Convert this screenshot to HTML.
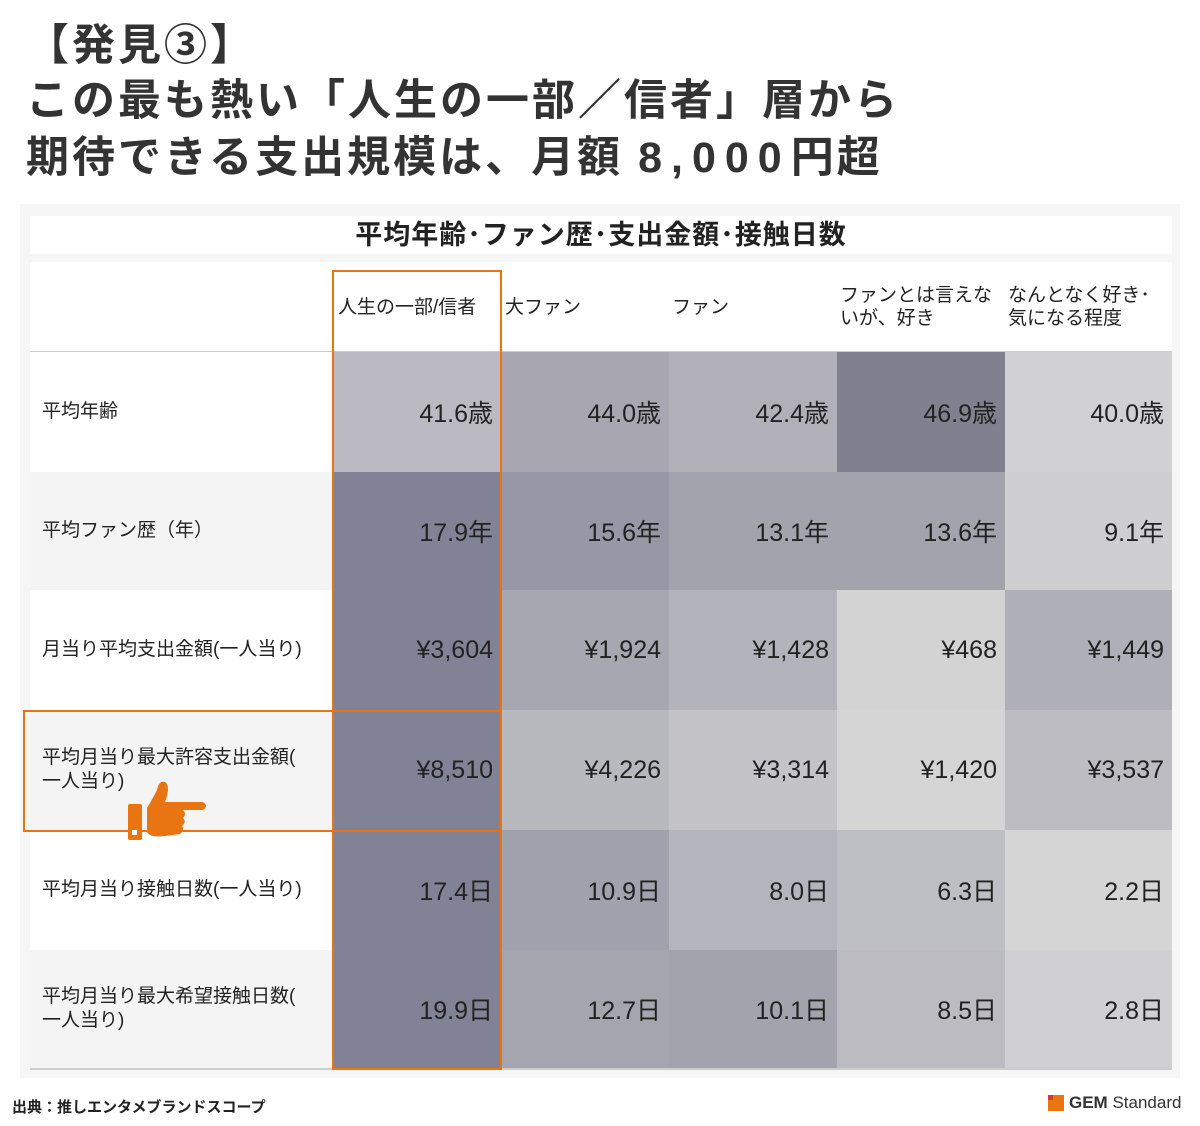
<!DOCTYPE html>
<html><head><meta charset="utf-8"><style>
body{margin:0;width:1200px;height:1126px;background:#fff;position:relative;font-family:"Liberation Sans","Noto Sans CJK JP",sans-serif;color:#333;overflow:hidden}
.t{position:absolute;left:26px;font-size:43px;font-weight:bold;white-space:nowrap;line-height:56px;color:#333;letter-spacing:3px}
.panel{position:absolute;left:20px;top:204px;width:1160px;height:874px;background:#f6f6f6}
.ttl{position:absolute;left:30px;top:216px;width:1142px;height:38px;background:#fff;text-align:center;font-size:27px;font-weight:bold;line-height:38px;color:#222;letter-spacing:1px}
.hdr{position:absolute;left:30px;top:262px;width:1142px;height:89px;background:#fff;border-bottom:2px solid #ccc}
.h{position:absolute;font-size:19px;line-height:23px;color:#222}
.c{position:absolute;box-sizing:border-box;text-align:right;padding-right:8px;font-size:25px;color:#222;display:flex;align-items:center;justify-content:flex-end}
.l{position:absolute;left:30px;width:303px;box-sizing:border-box;padding-left:12px;font-size:19px;color:#222;display:flex;align-items:center;line-height:24px}
.ob{position:absolute;border:2px solid #e87511;box-sizing:border-box}
</style></head><body>
<div class="t" style="top:18px">【発見③】</div>
<div class="t" style="top:73px">この最も熱い「人生の一部／信者」層から</div>
<div class="t" style="top:130px">期待できる支出規模は、月額 <span style="letter-spacing:9px">8,000</span>円超</div>
<div class="panel"></div>
<div class="ttl">平均年齢･ファン歴･支出金額･接触日数</div>
<div class="hdr"></div>
<div class="h" style="left:338px;top:296px">人生の一部/信者</div>
<div class="h" style="left:505px;top:296px">大ファン</div>
<div class="h" style="left:672px;top:296px">ファン</div>
<div class="h" style="left:840px;top:284px">ファンとは言えな<br>いが、好き</div>
<div class="h" style="left:1008px;top:284px">なんとなく好き･<br>気になる程度</div>

<div class="l" style="top:352px;height:120px;background:#fff">平均年齢</div>
<div class="l" style="top:472px;height:118px;background:#f4f4f4">平均ファン歴（年）</div>
<div class="l" style="top:590px;height:120px;background:#fff">月当り平均支出金額(一人当り)</div>
<div class="l" style="top:710px;height:120px;background:#f4f4f4">平均月当り最大許容支出金額(<br>一人当り)</div>
<div class="l" style="top:830px;height:120px;background:#fff">平均月当り接触日数(一人当り)</div>
<div class="l" style="top:950px;height:118px;background:#f4f4f4">平均月当り最大希望接触日数(<br>一人当り)</div>
<div style="position:absolute;left:30px;top:1068px;width:1142px;height:2px;background:#ccc"></div>

<div class="c" style="left:333px;top:352px;width:168px;height:120px;background:#bbbac2">41.6歳</div>
<div class="c" style="left:501px;top:352px;width:168px;height:120px;background:#a7a6b1">44.0歳</div>
<div class="c" style="left:669px;top:352px;width:168px;height:120px;background:#b1b0b9">42.4歳</div>
<div class="c" style="left:837px;top:352px;width:168px;height:120px;background:#81808f">46.9歳</div>
<div class="c" style="left:1005px;top:352px;width:167px;height:120px;background:#d1d1d3">40.0歳</div>
<div class="c" style="left:333px;top:472px;width:168px;height:118px;background:#828296">17.9年</div>
<div class="c" style="left:501px;top:472px;width:168px;height:118px;background:#9797a6">15.6年</div>
<div class="c" style="left:669px;top:472px;width:168px;height:118px;background:#a3a3ae">13.1年</div>
<div class="c" style="left:837px;top:472px;width:168px;height:118px;background:#a3a3ae">13.6年</div>
<div class="c" style="left:1005px;top:472px;width:167px;height:118px;background:#cfcfd1">9.1年</div>
<div class="c" style="left:333px;top:590px;width:168px;height:120px;background:#828296">¥3,604</div>
<div class="c" style="left:501px;top:590px;width:168px;height:120px;background:#a7a7b2">¥1,924</div>
<div class="c" style="left:669px;top:590px;width:168px;height:120px;background:#b3b3bb">¥1,428</div>
<div class="c" style="left:837px;top:590px;width:168px;height:120px;background:#d3d3d4">¥468</div>
<div class="c" style="left:1005px;top:590px;width:167px;height:120px;background:#afafb7">¥1,449</div>
<div class="c" style="left:333px;top:710px;width:168px;height:120px;background:#828296">¥8,510</div>
<div class="c" style="left:501px;top:710px;width:168px;height:120px;background:#b8b8bf">¥4,226</div>
<div class="c" style="left:669px;top:710px;width:168px;height:120px;background:#c3c3c8">¥3,314</div>
<div class="c" style="left:837px;top:710px;width:168px;height:120px;background:#d5d5d6">¥1,420</div>
<div class="c" style="left:1005px;top:710px;width:167px;height:120px;background:#bcbcc2">¥3,537</div>
<div class="c" style="left:333px;top:830px;width:168px;height:120px;background:#828296">17.4日</div>
<div class="c" style="left:501px;top:830px;width:168px;height:120px;background:#a2a2ae">10.9日</div>
<div class="c" style="left:669px;top:830px;width:168px;height:120px;background:#b4b4bc">8.0日</div>
<div class="c" style="left:837px;top:830px;width:168px;height:120px;background:#bebec5">6.3日</div>
<div class="c" style="left:1005px;top:830px;width:167px;height:120px;background:#d5d5d6">2.2日</div>
<div class="c" style="left:333px;top:950px;width:168px;height:118px;background:#828296">19.9日</div>
<div class="c" style="left:501px;top:950px;width:168px;height:118px;background:#a5a5b0">12.7日</div>
<div class="c" style="left:669px;top:950px;width:168px;height:118px;background:#a3a3ae">10.1日</div>
<div class="c" style="left:837px;top:950px;width:168px;height:118px;background:#bbbbc1">8.5日</div>
<div class="c" style="left:1005px;top:950px;width:167px;height:118px;background:#d0d0d2">2.8日</div>

<div class="ob" style="left:332px;top:270px;width:170px;height:800px"></div>
<div class="ob" style="left:23px;top:710px;width:479px;height:122px"></div>

<svg style="position:absolute;left:125px;top:780px" width="85" height="62" viewBox="0 0 85 62">
<rect x="3" y="24" width="14" height="36" rx="2" fill="#e87511"/>
<rect x="7" y="50" width="5" height="5" fill="#fff"/>
<path d="M22 28 Q28 18 32 10 Q34 0 40 2 Q46 6 40 22 L78 22 Q84 26 78 30 L58 30 Q62 34 58 38 Q62 42 57 46 Q60 50 55 54 L40 56 Q25 58 22 52 Z" fill="#e87511"/>
</svg>

<div style="position:absolute;left:12px;top:1096px;font-size:15px;font-weight:bold;color:#222">出典：推しエンタメブランドスコープ</div>
<div style="position:absolute;left:1048px;top:1095px;width:16px;height:16px;background:#e87511"></div>
<div style="position:absolute;left:1048px;top:1095px;width:5px;height:5px;background:#d43a2f"></div>
<div style="position:absolute;left:1069px;top:1093px;font-size:17px;color:#333"><b>GEM</b> Standard</div>
</body></html>
